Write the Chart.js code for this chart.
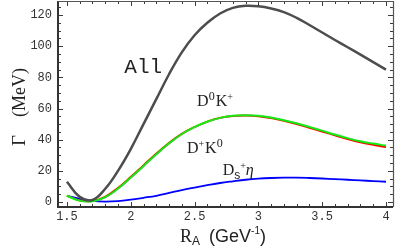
<!DOCTYPE html>
<html>
<head>
<meta charset="utf-8">
<script src="https://cdn.jsdelivr.net/npm/chart.js@4/dist/chart.umd.min.js"></script>
<style>
html,body{margin:0;padding:0;background:#fff;}
#wrap{width:400px;height:247px;position:relative;}
</style>
</head>
<body>
<div id="wrap"><canvas id="c" width="400" height="247"></canvas></div>
<script>
// R_A (GeV^-1) sample points
const rA = [1.5,1.6,1.7,1.8,1.9,2.0,2.1,2.2,2.3,2.4,2.5,2.6,2.7,2.8,2.9,3.0,3.1,3.2,3.3,3.4,3.5,3.6,3.7,3.8,3.9,4.0];
// Gamma (MeV)
const gammaAll  = [13,3.3,1.3,8.5,20,34,50,66,82,96,107,115,121,124.6,125.9,125.6,124.2,121.9,118.2,113.6,108.8,104,99.3,94.6,89.8,85];
const gammaD0Kp = [4,0.9,0.5,3,8.5,15.5,23,30.5,37.5,43.5,48,51.5,54,55.3,55.7,55.3,54.2,52.5,50.5,48.2,45.8,43.3,41,39,37.5,36.2];
const gammaDpK0 = [4,1,0.7,3.3,9,16,23.5,31,37.8,43.7,48.1,51.6,54,55.2,55.5,55.1,53.9,52.2,50.1,47.7,45.3,42.8,40.4,38.3,36.7,35.3];
const gammaDsEta= [4,2,0.7,0.3,0.6,1.5,2.7,4,5.8,7.7,9.3,10.8,12.2,13.3,14.3,15,15.4,15.6,15.6,15.4,15.1,14.7,14.3,13.9,13.4,13];
// axis ticks
const xTicks = [1.5,2,2.5,3,3.5,4];
const yTicks = [0,20,40,60,80,100,120];
const xMinor = [1.5,1.6,1.7,1.8,1.9,2.0,2.1,2.2,2.3,2.4,2.5,2.6,2.7,2.8,2.9,3.0,3.1,3.2,3.3,3.4,3.5,3.6,3.7,3.8,3.9,4.0];
const yMinor = [0,5,10,15,20,25,30,35,40,45,50,55,60,65,70,75,80,85,90,95,100,105,110,115,120,125];

const pts = arr => rA.map((x,i)=>({x:x,y:arr[i]}));

const SERIF = '"Liberation Serif","DejaVu Serif",serif';
const SANS = '"Liberation Sans","DejaVu Sans",sans-serif';
const MONO = '"Liberation Mono","DejaVu Sans Mono",monospace';

// curve labels anchored in data coordinates (x,y of baseline start)
const curveLabels = [
  {x:1.95, y:83, parts:[{t:'All', font:'21px '+MONO, dy:0}]},
  {x:2.52, y:61.5, parts:[{t:'D', font:'16px '+SERIF, dy:0},{t:'0', font:'12px '+SERIF, dy:-6, gap:1},{t:'K', font:'16px '+SERIF, dy:0},{t:'+', font:'10px '+SERIF, dy:-6}]},
  {x:2.44, y:31.5, parts:[{t:'D', font:'16px '+SERIF, dy:0},{t:'+', font:'10px '+SERIF, dy:-6, gap:1},{t:'K', font:'16px '+SERIF, dy:0},{t:'0', font:'12px '+SERIF, dy:-6}]},
  {x:2.72, y:17.5, parts:[{t:'D', font:'16px '+SERIF, dy:0},{t:'s', font:'12px '+SANS, dy:4},{t:'+', font:'10px '+SERIF, dy:-6},{t:'\u03B7', font:'italic 16px '+SERIF, dy:0}]}
];

function drawParts(ctx, x, y, parts, align){
  let w = 0;
  parts.forEach(p=>{ctx.font=p.font; w += ctx.measureText(p.t).width + (p.gap||0);});
  let cx = align==='center' ? x - w/2 : x;
  ctx.textAlign='left'; ctx.textBaseline='alphabetic';
  parts.forEach(p=>{ctx.font=p.font; ctx.fillText(p.t, cx, y + p.dy); cx += ctx.measureText(p.t).width + (p.gap||0);});
}

const framePlugin = {
  id:'frame',
  afterDatasetsDraw(chart){
    const ctx = chart.ctx, a = chart.chartArea;
    const xs = chart.scales.x, ys = chart.scales.y;
    ctx.save();
    ctx.strokeStyle='#3a3a3a';
    ctx.lineWidth=1;
    ctx.beginPath();
    xMinor.forEach(v=>{
      const px = Math.round(xs.getPixelForValue(v))+0.5;
      const L = xTicks.includes(v) ? 5 : 3;
      ctx.moveTo(px,a.bottom); ctx.lineTo(px,a.bottom-L);
      ctx.moveTo(px,a.top); ctx.lineTo(px,a.top+L);
    });
    yMinor.forEach(v=>{
      const py = Math.round(ys.getPixelForValue(v))+0.5;
      const L = yTicks.includes(v) ? 5 : 3;
      ctx.moveTo(a.left,py); ctx.lineTo(a.left+L,py);
      ctx.moveTo(a.right,py); ctx.lineTo(a.right-L,py);
    });
    ctx.stroke();
    // frame
    ctx.lineWidth=2;
    ctx.strokeStyle='#333';
    ctx.beginPath();
    ctx.moveTo(a.left,a.top); ctx.lineTo(a.left,a.bottom); ctx.lineTo(a.right,a.bottom);
    ctx.stroke();
    ctx.lineWidth=1.2;
    ctx.strokeStyle='#555';
    ctx.beginPath();
    ctx.moveTo(a.left,a.top+0.5); ctx.lineTo(a.right+0.5,a.top+0.5); ctx.lineTo(a.right+0.5,a.bottom);
    ctx.stroke();

    // curve labels
    ctx.fillStyle='#222';
    curveLabels.forEach(l=>{
      drawParts(ctx, xs.getPixelForValue(l.x), ys.getPixelForValue(l.y), l.parts, 'left');
    });

    // x axis title
    ctx.fillStyle='#222';
    drawParts(ctx, 223, 242, [
      {t:'R', font:'18px '+SERIF, dy:0},
      {t:'A', font:'12px '+SANS, dy:3, gap:9},
      {t:'(GeV', font:'18px '+SANS, dy:0},
      {t:'-1', font:'10px '+SANS, dy:-8},
      {t:')', font:'18px '+SANS, dy:0}
    ], 'center');
    // y axis title (rotated)
    ctx.translate(25, 107);
    ctx.rotate(-Math.PI/2);
    drawParts(ctx, 0, 0, [
      {t:'\u0393', font:'19px '+SERIF, dy:0, gap:18},
      {t:'(MeV)', font:'18px '+SERIF, dy:0}
    ], 'center');
    ctx.restore();
  }
};

new Chart(document.getElementById('c'), {
  type:'line',
  data:{
    datasets:[
      {label:'All', data:pts(gammaAll), borderColor:'#4d4d4d', borderWidth:2.5},
      {label:'D0K+', data:pts(gammaD0Kp), borderColor:'#11ee11', borderWidth:2},
      {label:'D+K0', data:pts(gammaDpK0), borderColor:'#ff0000', borderWidth:2},
      {label:'Ds+eta', data:pts(gammaDsEta), borderColor:'#0000ff', borderWidth:1.8}
    ]
  },
  options:{
    responsive:false,
    animation:false,
    devicePixelRatio:1,
    layout:{padding:{top:1,right:7,left:0,bottom:0}},
    elements:{point:{radius:0}, line:{tension:0.4, fill:false, capBezierPoints:false}},
    plugins:{legend:{display:false}, tooltip:{enabled:false}},
    scales:{
      x:{
        type:'linear', min:1.43, max:4.055,
        border:{display:false},
        grid:{display:false, drawTicks:false},
        afterBuildTicks:s=>{s.ticks = xTicks.map(v=>({value:v}));},
        afterFit:s=>{s.height=40; s.paddingLeft=0; s.paddingRight=0;},
        ticks:{padding:3, color:'#333', font:{family:MONO, size:12}, maxRotation:0, autoSkip:false,
          callback:v=>String(v)}
      },
      y:{
        type:'linear', min:-3.2, max:129,
        border:{display:false},
        grid:{display:false, drawTicks:false},
        afterBuildTicks:s=>{s.ticks = yTicks.map(v=>({value:v}));},
        afterFit:s=>{s.width=58; s.paddingTop=0; s.paddingBottom=0;},
        ticks:{padding:6, color:'#333', font:{family:MONO, size:12}, autoSkip:false,
          callback:v=>String(v)}
      }
    }
  },
  plugins:[framePlugin]
});
</script>
</body>
</html>
